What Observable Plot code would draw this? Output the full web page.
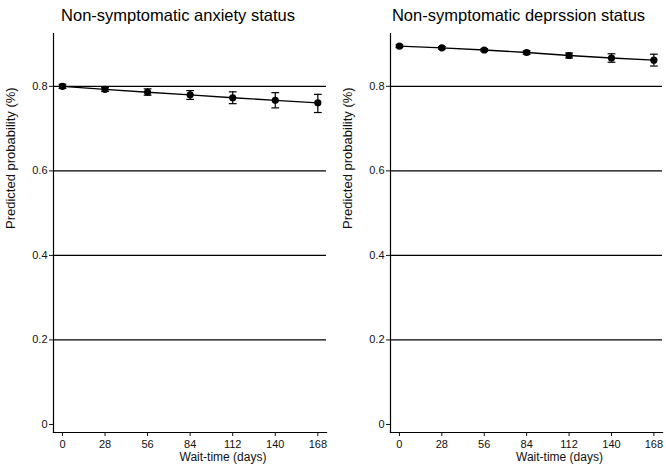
<!DOCTYPE html>
<html>
<head>
<meta charset="utf-8">
<script src="https://cdn.jsdelivr.net/npm/d3@7"></script>
<script src="https://cdn.jsdelivr.net/npm/@observablehq/plot@0.6"></script>
<style>
  html, body { margin: 0; padding: 0; background: #fff; }
  #wrap { display: flex; width: 666px; height: 471px; }
  svg { font-family: "Liberation Sans", Arial, Helvetica, sans-serif; }
</style>
</head>
<body>
<div id="wrap"></div>
<script>
const days = [0, 28, 56, 84, 112, 140, 168];
const yTicks = [0, 0.2, 0.4, 0.6, 0.8];
const gridTicks = [0.2, 0.4, 0.6, 0.8];

const anxietyEst = [0.800, 0.793, 0.786, 0.780, 0.773, 0.767, 0.761];
const anxietyLo  = [0.795, 0.788, 0.779, 0.769, 0.759, 0.749, 0.738];
const anxietyHi  = [0.805, 0.797, 0.794, 0.790, 0.787, 0.785, 0.781];

const depressionEst = [0.895, 0.891, 0.886, 0.880, 0.873, 0.867, 0.862];
const depressionLo  = [0.892, 0.888, 0.883, 0.876, 0.867, 0.857, 0.848];
const depressionHi  = [0.898, 0.894, 0.889, 0.884, 0.879, 0.877, 0.876];

const titles = ["Non-symptomatic anxiety status", "Non-symptomatic deprssion status"];
const xLabel = "Wait-time (days)";
const yLabel = "Predicted probability (%)";

function rows(est, lo, hi) {
  return days.map((d, i) => ({day: d, est: est[i], lo: lo[i], hi: hi[i]}));
}

const capSymbol = {
  draw(context, size) {
    const w = Math.sqrt(size) / 2;
    context.moveTo(-w, 0);
    context.lineTo(w, 0);
  }
};

function panel(data, title, opts) {
  return Plot.plot({
    width: 333,
    height: 471,
    marginLeft: opts.marginLeft,
    marginRight: opts.marginRight,
    marginTop: 33,
    marginBottom: 39,
    x: {domain: [-5.9, 173.7]},
    y: {domain: [-0.019, 0.925]},
    style: {fontFamily: "Liberation Sans, Arial, Helvetica, sans-serif", color: "#111", background: "#fff"},
    marks: [
      Plot.gridY(gridTicks, {stroke: "#000", strokeOpacity: 1, strokeWidth: 1.2}),
      Plot.frame({anchor: "left", stroke: "#000", strokeWidth: 1.2}),
      Plot.frame({anchor: "bottom", stroke: "#000", strokeWidth: 1.2}),
      Plot.axisY({ticks: yTicks, tickSize: 4, tickPadding: 2, fontSize: 11,
        tickFormat: d => d === 0 ? "0" : d.toFixed(1), label: null}),
      Plot.axisX({ticks: days, tickSize: 4, tickPadding: 4, fontSize: 11,
        tickFormat: d => String(d), label: null}),
      Plot.ruleX(data, {x: "day", y1: "lo", y2: "hi", stroke: "#000", strokeWidth: 1.2}),
      Plot.dot(data, {x: "day", y: "lo", symbol: capSymbol, r: 4.4, stroke: "#000", strokeWidth: 1.2, fill: "none"}),
      Plot.dot(data, {x: "day", y: "hi", symbol: capSymbol, r: 4.4, stroke: "#000", strokeWidth: 1.2, fill: "none"}),
      Plot.line(data, {x: "day", y: "est", stroke: "#000", strokeWidth: 1.3}),
      Plot.dot(data, {x: "day", y: "est", r: 3.6, fill: "#000", stroke: "none"}),
      Plot.text([title], {frameAnchor: "top", dx: opts.titleDx, dy: -24, fontSize: 16.5, fill: "#000"}),
      Plot.text([xLabel], {frameAnchor: "bottom", dx: opts.xLabelDx, dy: 28, fontSize: 12, fill: "#111"}),
      Plot.text([yLabel], {frameAnchor: "left", dx: -43, dy: -4, rotate: -90, fontSize: 13, fill: "#111"})
    ]
  });
}

const wrap = document.getElementById("wrap");
wrap.append(panel(rows(anxietyEst, anxietyLo, anxietyHi), titles[0],
  {marginLeft: 53, marginRight: 7, titleDx: -12, xLabelDx: 33}));
wrap.append(panel(rows(depressionEst, depressionLo, depressionHi), titles[1],
  {marginLeft: 57, marginRight: 4, titleDx: -8, xLabelDx: 33}));
</script>
</body>
</html>
